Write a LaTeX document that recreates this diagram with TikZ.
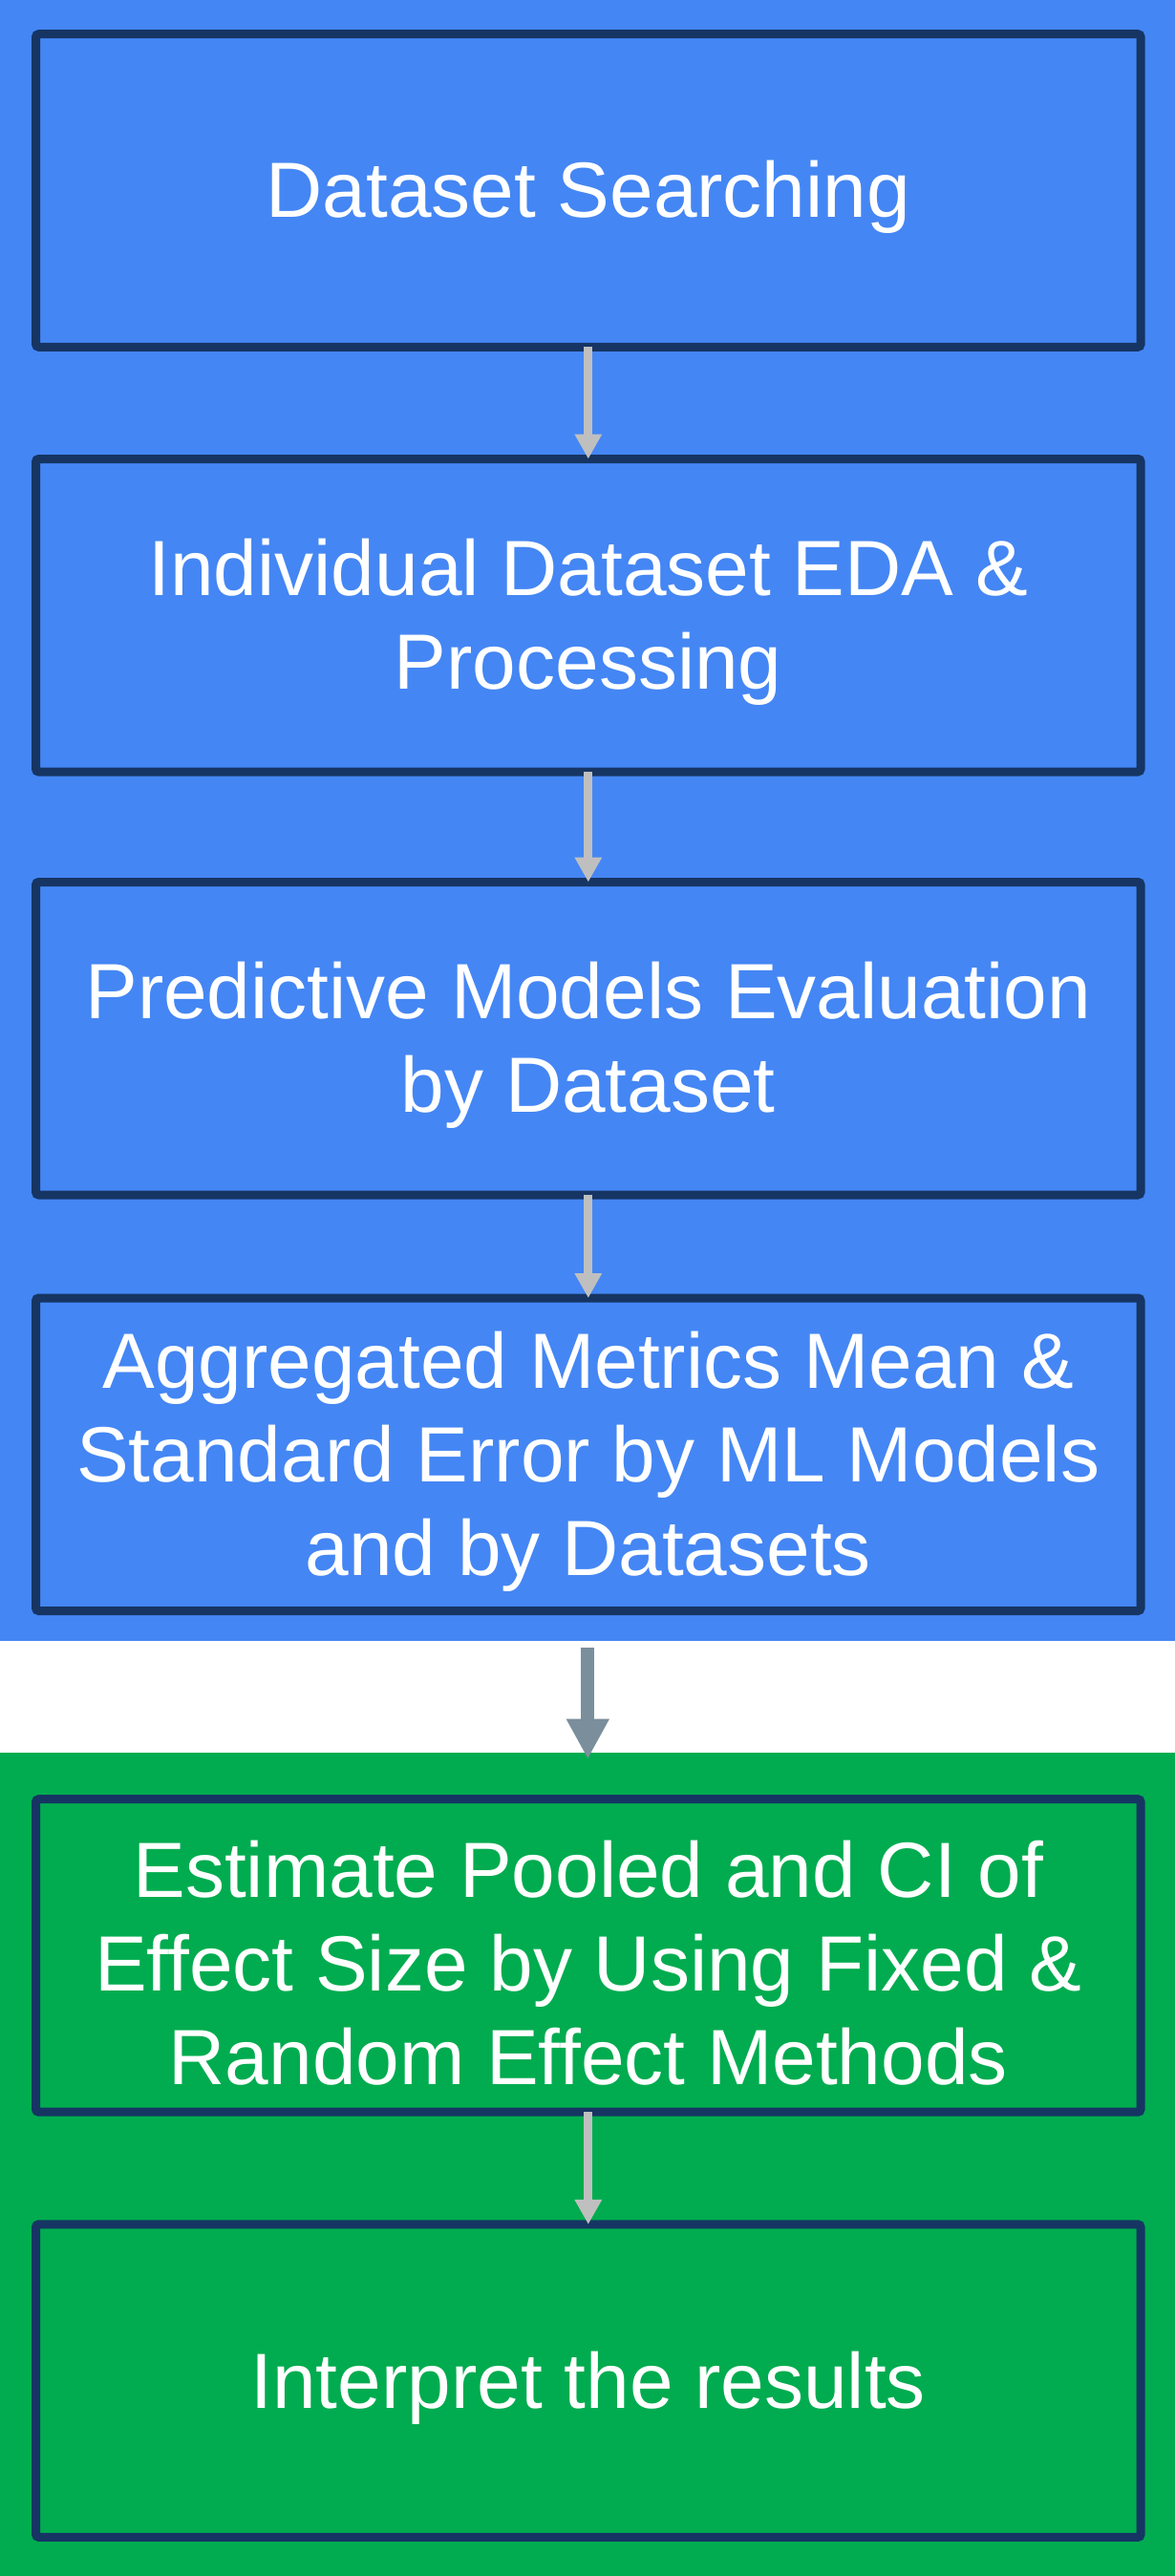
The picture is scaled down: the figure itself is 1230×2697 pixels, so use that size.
\documentclass[tikz,border=0pt]{standalone}
\usepackage{fontspec}
\setmainfont{Liberation Sans}
\usetikzlibrary{arrows.meta}
\definecolor{bluebg}{RGB}{68,134,244}
\definecolor{greenbg}{RGB}{0,172,79}
\definecolor{navy}{RGB}{22,53,99}
\definecolor{linkgray}{RGB}{191,191,191}
\definecolor{slate}{RGB}{122,143,155}
\newcommand{\lift}{\rule{0pt}{74pt}}
\begin{document}
\begin{tikzpicture}[x=1pt,y=-1pt,
    n/.style={draw=navy,line width=9pt,rounded corners=3pt,outer sep=0pt,
      minimum width=1156.5pt,minimum height=327.5pt,align=center,text=white,
      font=\fontsize{82}{98}\selectfont},
    ar/.style={-{Triangle[width=27pt,length=26pt]},draw=linkgray,fill=linkgray,line width=9pt},
    big/.style={-{Triangle[width=42pt,length=42pt]},draw=slate,fill=slate,line width=14pt}]
\useasboundingbox (0,0) rectangle (1230,2697);
\fill[bluebg] (0,0) rectangle (1230,1717.5);
\fill[greenbg] (0,1835) rectangle (1230,2697);
\node[n] (ds) at (615.8,199.5) {\lift Dataset Searching};
\node[n] (eda) at (615.8,644.25) {\lift Individual Dataset EDA \&\\Processing};
\node[n] (pm) at (615.8,1087.25) {\lift Predictive Models Evaluation\\by Dataset};
\node[n] (agg) at (615.8,1522.75) {\lift Aggregated Metrics Mean \&\\Standard Error by ML Models\\and by Datasets};
\node[n] (est) at (615.8,2047.45) {\lift Estimate Pooled and CI of\\Effect Size by Using Fixed \&\\Random Effect Methods};
\node[n] (int) at (615.8,2492.55) {\lift Interpret the results};
\coordinate (gapt) at (615.3,1725);
\coordinate (gapb) at (615.3,1841.7);
\draw[ar] (ds) -- (eda);
\draw[ar] (eda) -- (pm);
\draw[ar] (pm) -- (agg);
\draw[big] (gapt) -- (gapb);
\draw[ar] (est) -- (int);
\end{tikzpicture}
\end{document}
